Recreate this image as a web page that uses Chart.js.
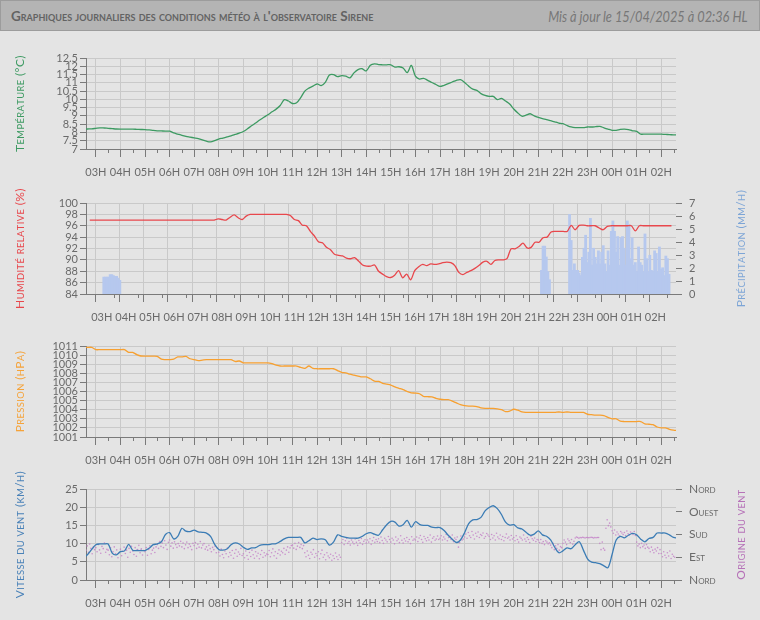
<!DOCTYPE html>
<html lang="fr">
<head>
<meta charset="UTF-8">
<title>Graphiques journaliers - observatoire Sirene</title>
<script src="https://cdn.jsdelivr.net/npm/chart.js"></script>
<style>
    body {
        margin: 0;
        width: 760px;
        height: 620px;
        overflow: hidden;
        position: relative;
        background: #e4e4e4;
        font-family: Lato, "Open Sans", sans-serif;
    }
    .header {
        position: absolute;
        left: 0; top: 0;
        width: 758px; height: 29px;
        background: #b4b4b4;
        border: 1px solid #9c9c9c;
    }
    .header .title {
        position: absolute;
        left: 10px; top: 7px;
        font-weight: bold;
        font-size: 13.5px;
        font-variant: small-caps;
        color: #636363;
        white-space: nowrap;
    }
    .header .updated {
        position: absolute;
        right: 11px; top: 6px;
        font-style: italic;
        font-size: 15px;
        color: #777;
        white-space: nowrap;
        transform: scaleX(0.85);
        transform-origin: right center;
    }
    .panel { position: absolute; left: 0; width: 760px; height: 160px; }
</style>
</head>
<body>
<div class="header">
    <div class="title">Graphiques journaliers des conditions météo à l'observatoire Sirene</div>
    <div class="updated">Mis à jour le 15/04/2025 à 02:36 HL</div>
</div>
<div class="panel" style="top:33px"><canvas id="tempChart" width="760" height="160"></canvas></div>
<div class="panel" style="top:178px"><canvas id="humChart" width="760" height="160"></canvas></div>
<div class="panel" style="top:321px"><canvas id="pressChart" width="760" height="160"></canvas></div>
<div class="panel" style="top:464px"><canvas id="windChart" width="760" height="160"></canvas></div>
<script>
// axe horaire : 02:36 -> 02:36 le lendemain (minutes depuis minuit)
const hourLabels = ['03H','04H','05H','06H','07H','08H','09H','10H','11H','12H','13H','14H',
                    '15H','16H','17H','18H','19H','20H','21H','22H','23H','00H','01H','02H'];

// mesures toutes les 10 min, de 02:30 a 02:40 le lendemain
const temperature = [8.2, 8.21, 8.22,
    8.25, 8.28, 8.27, 8.25, 8.23, 8.21,
    8.2, 8.2, 8.2, 8.2, 8.19, 8.18,
    8.17, 8.15, 8.12, 8.1, 8.09, 8.08,
    8.08, 7.97, 7.9, 7.83, 7.77, 7.72,
    7.67, 7.62, 7.55, 7.47, 7.43, 7.5,
    7.6, 7.66, 7.73, 7.8, 7.88, 7.96,
    8.06, 8.22, 8.4, 8.57, 8.75, 8.92,
    9.07, 9.25, 9.41, 9.63, 9.98, 9.9,
    9.75, 9.79, 10.1, 10.5, 10.68, 10.8,
    10.93, 10.83, 11.03, 11.47, 11.5, 11.37,
    11.43, 11.4, 11.3, 11.6, 11.8, 11.85,
    11.72, 12.06, 12.15, 12.1, 12.09, 12.09,
    12.09, 11.95, 11.97, 11.9, 11.62, 12.05,
    11.4, 11.23, 11.27, 11.15, 11.02, 10.9,
    10.78, 10.85, 10.95, 11.05, 11.15, 11.19,
    11.02, 10.8, 10.62, 10.54, 10.35, 10.24,
    10.18, 10.18, 9.98, 10.06, 9.9, 9.72,
    9.42, 9.18, 8.98, 9.05, 9.13, 9.0,
    8.91, 8.84, 8.78, 8.71, 8.64, 8.57,
    8.53, 8.42, 8.33, 8.29, 8.29, 8.29,
    8.33, 8.33, 8.35, 8.37, 8.28, 8.2,
    8.13, 8.13, 8.18, 8.2, 8.17, 8.1,
    8.07, 7.9, 7.9, 7.9, 7.9, 7.9,
    7.9, 7.88, 7.87, 7.85, 7.85];

const humidity = [97, 97, 97,
    97, 97, 97, 97, 97, 97,
    97, 97, 97, 97, 97, 97,
    97, 97, 97, 97, 97, 97,
    97, 97, 97, 97, 97, 97,
    97, 97, 97, 97, 97, 97.2,
    97.1, 97.0, 97.5, 97.9, 97.4, 97.1,
    97.7, 98, 98, 98, 98, 98,
    98, 98, 98, 98, 98, 97.8,
    97.1, 96.9, 96.1, 96.0, 95.0, 94.2,
    93.2, 93.0, 92.2, 91.8, 91.0, 90.8,
    90.7, 90.3, 90.2, 90.4, 89.8, 89.1,
    88.9, 88.9, 89.1, 88.0, 87.5, 87.05,
    86.9, 87.3, 88.1, 86.85, 87.5, 86.5,
    88.1, 88.8, 89.2, 89.0, 89.3, 89.2,
    89.3, 89.5, 89.6, 89.5, 89.0, 87.8,
    87.4, 87.8, 88.1, 88.5, 89.0, 89.6,
    89.75, 89.2, 89.9, 90.0, 90.0, 90.2,
    91.95, 91.95, 92.35, 92.95, 92.1, 92.2,
    93.1, 93.1, 93.9, 94.0, 94.9, 95.0,
    95.0, 95.0, 95.0, 96.06, 95.3, 96.06,
    96.1, 96, 96, 96, 95.6, 95.3,
    95.9, 96, 96, 96, 96, 96,
    96, 95.1, 96, 96, 96, 96,
    96, 96, 96, 96, 96];

const pressure = [1010.85, 1010.85, 1010.85,
    1010.6, 1010.6, 1010.6, 1010.6, 1010.6, 1010.6,
    1010.6, 1010.6, 1010.3, 1010.3, 1010.05, 1009.9,
    1009.88, 1009.88, 1009.88, 1009.85, 1009.55, 1009.5,
    1009.5, 1009.55, 1009.8, 1009.8, 1009.85, 1009.6,
    1009.5, 1009.4, 1009.45, 1009.5, 1009.5, 1009.5,
    1009.5, 1009.5, 1009.5, 1009.5, 1009.3, 1009.35,
    1009.15, 1009.15, 1009.15, 1009.15, 1009.15, 1009.15,
    1009.15, 1009.05, 1008.9, 1008.8, 1008.8, 1008.8,
    1008.8, 1008.8, 1008.65, 1008.55, 1008.8, 1008.55,
    1008.5, 1008.5, 1008.5, 1008.5, 1008.5, 1008.3,
    1008.1, 1008.05, 1007.9, 1007.8, 1007.7, 1007.6,
    1007.6, 1007.4, 1007.15, 1007.1, 1006.9, 1006.8,
    1006.7, 1006.5, 1006.35, 1006.2, 1006.0, 1005.85,
    1005.83, 1005.75, 1005.45, 1005.43, 1005.4, 1005.25,
    1005.15, 1005.1, 1005.1, 1004.95, 1004.75, 1004.55,
    1004.45, 1004.4, 1004.4, 1004.35, 1004.2, 1004.15,
    1004.15, 1004.15, 1004.1, 1004.0, 1003.8, 1003.85,
    1004.05, 1003.95, 1003.75, 1003.7, 1003.7, 1003.7,
    1003.7, 1003.7, 1003.7, 1003.7, 1003.7, 1003.75,
    1003.7, 1003.75, 1003.7, 1003.7, 1003.7, 1003.7,
    1003.5, 1003.45, 1003.4, 1003.4, 1003.35, 1003.15,
    1003.0, 1003.0, 1002.75, 1002.7, 1002.7, 1002.7,
    1002.7, 1002.7, 1002.45, 1002.4, 1002.35, 1002.1,
    1002.0, 1002.0, 1001.85, 1001.75, 1001.7];

const windSpeed = [6.0, 7.0, 8.4,
    9.7, 9.9, 9.9, 9.9, 7.4, 6.9,
    7.8, 8.0, 9.8, 8.2, 8.1, 8.1,
    8.1, 8.7, 9.7, 9.9, 10.5, 12.5,
    13.0, 11.3, 12.0, 14.2, 13.4, 13.3,
    13.7, 13.2, 13.1, 12.9, 12.0, 9.8,
    8.4, 8.2, 8.5, 9.7, 10.2, 9.9,
    9.0, 8.4, 8.8, 8.9, 9.5, 9.7,
    9.7, 9.9, 10.0, 10.6, 11.3, 11.7,
    11.7, 11.7, 11.7, 10.2, 10.8, 11.5,
    11.1, 11.3, 11.05, 9.6, 10.4, 12.4,
    12.0, 11.7, 11.5, 11.5, 11.5, 12.0,
    12.7, 13.0, 12.6, 12.3, 13.8, 15.2,
    16.1, 15.9, 14.8, 15.2, 16.4, 14.5,
    16.0, 15.3, 15.0, 15.0, 14.5, 14.4,
    14.4, 13.6, 12.3, 11.2, 10.3, 11.0,
    13.0, 15.5, 16.5, 16.6, 17.2, 19.0,
    19.9, 20.4, 19.6, 18.0, 15.9, 15.1,
    15.2, 14.3, 14.0, 13.1, 12.3, 12.6,
    13.5, 12.4, 12.0, 11.0, 9.0, 7.5,
    8.0, 8.8, 8.6, 9.7, 10.5, 8.2,
    5.8, 4.9, 4.75, 4.5, 3.9, 3.4,
    7.0, 11.0, 12.0, 11.6, 12.3, 12.8,
    12.4, 11.2, 10.5, 11.4, 11.7, 12.9,
    12.9, 12.9, 12.4, 11.7, 11.5];

// origine du vent (degres), toutes les 3 min depuis 02:36
const windDir = [118, 135, 110, 142, 125, 104, 131, 120,
    128, 112, 140, 119, 106, 133, 124, 146, 110, 121, 118, 100, 127, 92, 112, 131, 104, 119, 88, 109,
    122, 96, 114, 130, 105, 118, 90, 125, 110, 133, 115, 101, 128, 94, 120, 137, 108, 123, 99, 117,
    112, 128, 98, 121, 135, 104, 118, 126, 109, 131, 140, 125, 152, 133, 146, 128, 155, 138, 121, 149,
    158, 134, 147, 126, 151, 140, 129, 144, 135, 153, 131, 146, 124, 139, 150, 128, 142, 133, 120, 145,
    136, 148, 125, 141, 130, 152, 127, 138, 144, 122, 131, 118, 137, 124, 112, 129, 120, 134, 108, 126,
    110, 95, 122, 101, 88, 115, 104, 126, 92, 109, 98, 117, 86, 106, 120, 94, 111, 102, 125, 97,
    104, 88, 115, 97, 82, 109, 93, 118, 100, 86, 112, 95, 106, 84, 101, 117, 90, 108, 96, 103,
    101, 117, 92, 108, 123, 96, 112, 86, 105, 119, 99, 114, 108, 125, 102, 118, 131, 110, 127, 136,
    138, 126, 145, 121, 134, 148, 129, 140, 124, 136, 108, 92, 115, 98, 85, 110, 102, 120, 90, 105,
    96, 112, 84, 104, 118, 90, 100, 80, 108, 95, 88, 102, 78, 96, 85, 107, 92, 81, 99, 90,
    148, 160, 140, 155, 165, 145, 152, 138, 158, 150, 143, 162, 149, 137, 156, 147, 164, 141, 153, 159,
    146, 158, 150, 163, 141, 155, 168, 149, 160, 152, 163, 148, 170, 156, 145, 165, 158, 151, 172, 160,
    150, 165, 158, 143, 170, 155, 162, 148, 175, 157, 146, 163, 154, 168, 151, 160, 144, 171, 157, 162,
    158, 170, 152, 166, 176, 160, 149, 172, 163, 155, 168, 158, 178, 150, 165, 171, 157, 162, 174, 160,
    165, 175, 158, 170, 162, 180, 155, 168, 172, 160, 178, 152, 166, 160, 170, 130, 148, 174, 158, 162,
    170, 182, 165, 188, 175, 168, 192, 178, 162, 185, 173, 190, 168, 180, 176, 186, 165, 172, 184, 178,
    172, 160, 180, 166, 175, 158, 185, 170, 163, 178, 160, 172, 155, 168, 182, 165, 170, 158, 176, 162,
    168, 155, 175, 160, 150, 170, 165, 158, 178, 162, 153, 168, 160, 148, 172, 163, 157, 166, 152, 160,
    158, 148, 160, 145, 152, 140, 155, 150, 143, 147, 138, 128, 145, 120, 135, 125, 140, 118, 132, 128,
    145, 158, 150, 140, 162, 155, 148, 160, 142, 153, 166, 170, 168, 165, 168, 167, 169, 168, 166, 168,
    168, 167, 168, 169, 168, 166, 168, 167, 168, 168, 145, 120, 150, 125, 118, 205, 238, 215, 225, 210,
    195, 185, 198, 178, 190, 182, 175, 192, 186, 180, 188, 176, 194, 183, 178, 190, 185, 180, 192, 176,
    150, 135, 142, 128, 145, 132, 138, 125, 140, 130, 125, 112, 130, 118, 108, 122, 115, 128, 105, 120,
    105, 92, 112, 98, 88, 108, 95, 115, 85, 102, 94, 90];

// precipitations (mm/h) par pas de 4 min
const rainStartA = '03:03';
const rainA = [1.28, 1.28, 1.28, 1.28, 1.47, 1.47, 1.4, 1.34, 1.34, 1.2, 1.03];
const rainStartB = '21:14';
const rainB = [1.8, 3.66, 3.66, 2.83, 1.7, 1.08];
const rainStartC = '22:24';
const rainC = [6.1, 4.1, 1.8, 2.3, 1.8, 1.8, 1.6, 1.4, 2.8, 3.5,
    4.5, 2.4, 3.2, 5.8, 2.2, 3.5, 2.8, 2.3, 3.3, 2.3,
    3.2, 3.7, 2.3, 1.7, 3.3, 2.2, 4.8, 5.6, 4.8, 3.2,
    4.4, 2.2, 4.3, 4.4, 3.5, 2.2, 5.6, 5.3, 2.7, 4.3,
    2.2, 2.4, 1.7, 3.6, 2.4, 2.2, 1.7, 4.6, 2.7, 1.7,
    2.96, 1.8, 1.7, 3.3, 3.1, 1.7, 3.6, 1.9, 2.0, 1.4,
    2.9, 2.7, 1.5];

// graduations des axes
const tempTicks = [7, 7.5, 8, 8.5, 9, 9.5, 10, 10.5, 11, 11.5, 12, 12.5];
const humTicks = [84, 86, 88, 90, 92, 94, 96, 98, 100];
const rainTicks = [0, 1, 2, 3, 4, 5, 6, 7];
const pressTicks = [1001, 1002, 1003, 1004, 1005, 1006, 1007, 1008, 1009, 1010, 1011];
const windTicks = [0, 5, 10, 15, 20, 25];
const dirTicks = [0, 90, 180, 270, 360];
const dirLabels = ['Nord', 'Est', 'Sud', 'Ouest', 'Nord'];

const FONT = 'Lato, "Open Sans", sans-serif';
const GRID = '#c9c9c9';
const AXIS = '#7a7a7a';
const TICK_TEXT = '#6a6a6a';
const T_START = 156, T_END = 1596;

const clock = s => { const [h, m] = s.split(':').map(Number); const t = h * 60 + m; return t < 150 ? t + 1440 : t; };
const every10 = arr => arr.map((v, i) => ({ x: 150 + i * 10, y: v }));
const rainBars = (start, arr) => arr.map((v, i) => ({ x: clock(start) + i * 4 + 2, y: v }));

const hourTicks = hourLabels.map((l, i) => 180 + i * 60);
const halfTicks = hourTicks.map(v => v + 30).filter(v => v < T_END);
const tickFont = { family: FONT, size: 11 };

// petites capitales pour les titres d'axes (ecrits de bas en haut)
function verticalSmallCaps(ctx, text, cx, cy, color, size) {
    const parts = [];
    for (const ch of text) {
        const lower = ch !== ch.toUpperCase();
        parts.push({ ch: ch.toUpperCase(), s: lower ? size * 0.78 : size });
    }
    let w = 0;
    parts.forEach(p => { ctx.font = p.s + 'px ' + FONT; p.w = ctx.measureText(p.ch).width + 0.4; w += p.w; });
    ctx.save();
    ctx.translate(cx, cy);
    ctx.rotate(-Math.PI / 2);
    ctx.fillStyle = color;
    ctx.textAlign = 'left';
    ctx.textBaseline = 'alphabetic';
    let x = -w / 2;
    parts.forEach(p => { ctx.font = p.s + 'px ' + FONT; ctx.fillText(p.ch, x, size * 0.36); x += p.w; });
    ctx.restore();
}

const decor = {
    id: 'decor',
    afterDraw(chart, args, opts) {
        const ctx = chart.ctx, area = chart.chartArea, xs = chart.scales.x;
        ctx.save();
        ctx.strokeStyle = AXIS;
        ctx.lineWidth = 1;
        ctx.beginPath();
        halfTicks.forEach(v => {
            const px = Math.round(xs.getPixelForValue(v)) + 0.5;
            ctx.moveTo(px, area.bottom);
            ctx.lineTo(px, area.bottom + 4);
        });
        ctx.stroke();
        const cy = (area.top + area.bottom) / 2;
        if (opts.left) verticalSmallCaps(ctx, opts.left.text, 20, cy, opts.left.color, 12);
        if (opts.right) verticalSmallCaps(ctx, opts.right.text, 741, cy, opts.right.color, 12);
        ctx.restore();
    }
};

function xScale() {
    const isHour = v => (v - 180) % 60 === 0;
    return {
        type: 'linear', min: T_START, max: T_END,
        afterBuildTicks: s => { s.ticks = hourTicks.concat(halfTicks).sort((a, b) => a - b).map(v => ({ value: v })); },
        afterFit: s => { s.height = 44; },
        ticks: {
            autoSkip: false, maxRotation: 0, padding: 9, color: TICK_TEXT, font: tickFont,
            callback: v => isHour(v) ? hourLabels[(v - 180) / 60] : ''
        },
        grid: {
            color: c => c.tick && isHour(c.tick.value) ? GRID : 'rgba(0,0,0,0)',
            tickColor: c => c.tick && isHour(c.tick.value) ? AXIS : 'rgba(0,0,0,0)',
            tickLength: 8
        },
        border: { color: AXIS }
    };
}

function yLeft(min, max, values) {
    return {
        position: 'left', min, max,
        afterBuildTicks: s => { s.ticks = values.map(v => ({ value: v })); },
        afterFit: s => { s.width = 86; },
        ticks: { autoSkip: false, padding: 2, color: TICK_TEXT, font: tickFont, callback: v => String(v) },
        grid: { color: GRID, tickColor: AXIS, tickLength: 6 },
        border: { color: AXIS }
    };
}

function yRight(min, max, values, labels, font) {
    return {
        position: 'right', min, max,
        afterBuildTicks: s => { s.ticks = values.map(v => ({ value: v })); },
        afterFit: s => { s.width = 84; },
        ticks: {
            autoSkip: false, padding: 7, color: TICK_TEXT, font: font || tickFont,
            callback: v => labels ? labels[values.indexOf(v)] : String(v)
        },
        grid: { drawOnChartArea: false, tickColor: AXIS, tickLength: 6 },
        border: { display: false }
    };
}

function makeChart(id, datasets, scales, titles) {
    return new Chart(document.getElementById(id), {
        type: 'line',
        data: { datasets },
        options: {
            responsive: false,
            animation: false,
            events: [],
            layout: { padding: { top: 25, left: 0, bottom: 0, right: scales.y1 ? 0 : 84 } },
            elements: { point: { radius: 0 } },
            plugins: { legend: { display: false }, tooltip: { enabled: false }, decor: titles },
            scales: Object.assign({ x: xScale() }, scales)
        },
        plugins: [decor]
    });
}

const lineStyle = color => ({ borderColor: color, borderWidth: 1.3, tension: 0.3, pointRadius: 0, fill: false });

makeChart('tempChart',
    [Object.assign({ data: every10(temperature) }, lineStyle('#3d9a62'))],
    { y: yLeft(7, 12.5, tempTicks) },
    { left: { text: 'Température (°C)', color: '#3d9a62' } });

makeChart('humChart',
    [
        Object.assign({ data: every10(humidity), yAxisID: 'y', order: 0 }, lineStyle('#e8474c')),
        {
            type: 'bar', yAxisID: 'y1', order: 1,
            data: rainBars(rainStartA, rainA).concat(rainBars(rainStartB, rainB), rainBars(rainStartC, rainC)),
            backgroundColor: '#b6c8ee', borderWidth: 0, barPercentage: 1, categoryPercentage: 1,
            inflateAmount: 0.6
        }
    ],
    { y: yLeft(84, 100, humTicks), y1: yRight(0, 7, rainTicks) },
    { left: { text: 'Humidité relative (%)', color: '#e8474c' },
      right: { text: 'Précipitation (mm/h)', color: '#7da5d6' } });

makeChart('pressChart',
    [Object.assign({ data: every10(pressure) }, lineStyle('#f7a030'))],
    { y: yLeft(1001, 1011, pressTicks) },
    { left: { text: 'Pression (hPa)', color: '#f5a33a' } });

makeChart('windChart',
    [
        Object.assign({ data: every10(windSpeed), yAxisID: 'y', order: 0 }, lineStyle('#3b7cb5')),
        {
            yAxisID: 'y1', order: 1, showLine: false,
            data: windDir.map((v, i) => ({ x: T_START + i * 3, y: v })),
            pointRadius: 0.8, pointBorderWidth: 0,
            pointBackgroundColor: 'rgba(196,130,200,0.85)'
        }
    ],
    { y: yLeft(0, 25, windTicks),
      y1: yRight(0, 360, dirTicks, dirLabels, { family: FONT, size: 12, weight: 'small-caps' }) },
    { left: { text: 'Vitesse du vent (km/h)', color: '#4a82b8' },
      right: { text: 'Origine du vent', color: '#b672b8' } });
</script>
</body>
</html>
